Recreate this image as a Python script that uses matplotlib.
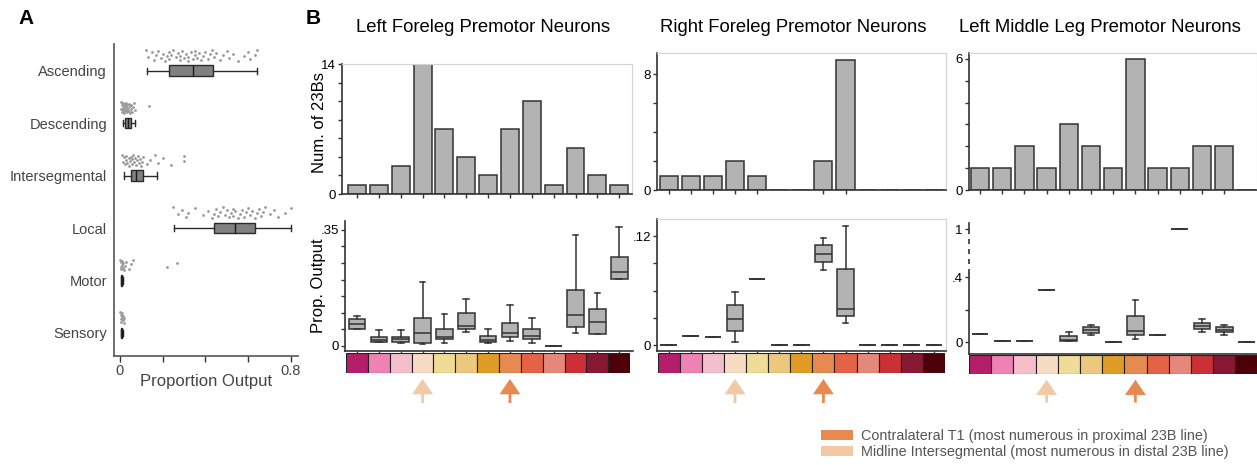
import matplotlib
matplotlib.use("Agg")
import matplotlib.pyplot as plt
import numpy as np
from matplotlib.patches import Patch
from matplotlib.transforms import blended_transform_factory

plt.rcParams["font.family"] = ["Liberation Sans", "DejaVu Sans"]

W, H = 1257, 465

# ---- Panel A: proportion of output onto each partner class ----
classes = ["Ascending", "Descending", "Intersegmental", "Local", "Motor", "Sensory"]
cls_lo = [0.125, 0.012, 0.020, 0.254, 0.004, 0.004]
cls_q1 = [0.229, 0.023, 0.050, 0.441, 0.006, 0.006]
cls_med = [0.340, 0.036, 0.073, 0.538, 0.008, 0.008]
cls_q3 = [0.437, 0.050, 0.106, 0.632, 0.010, 0.010]
cls_hi = [0.640, 0.070, 0.172, 0.799, 0.012, 0.012]

asc_pts = [0.12, 0.13, 0.15, 0.16, 0.17, 0.18, 0.19, 0.20, 0.21, 0.22, 0.23, 0.23,
           0.24, 0.25, 0.26, 0.27, 0.28, 0.28, 0.29, 0.30, 0.31, 0.32, 0.32, 0.33,
           0.34, 0.35, 0.35, 0.36, 0.37, 0.38, 0.39, 0.40, 0.41, 0.42, 0.43, 0.44,
           0.45, 0.47, 0.48, 0.50, 0.51, 0.53, 0.55, 0.58, 0.60, 0.61, 0.63, 0.64]
desc_pts = [0.004, 0.006, 0.008, 0.010, 0.012, 0.014, 0.015, 0.018, 0.020, 0.022,
            0.024, 0.025, 0.027, 0.030, 0.032, 0.034, 0.035, 0.038, 0.040, 0.042,
            0.045, 0.048, 0.050, 0.053, 0.055, 0.060, 0.065, 0.070, 0.137]
inter_pts = [0.010, 0.015, 0.020, 0.025, 0.028, 0.030, 0.035, 0.040, 0.042, 0.045,
             0.050, 0.055, 0.058, 0.060, 0.065, 0.070, 0.075, 0.080, 0.085, 0.090,
             0.095, 0.100, 0.105, 0.110, 0.125, 0.140, 0.164, 0.180, 0.200, 0.237,
             0.300, 0.300]
local_pts = [0.25, 0.27, 0.29, 0.31, 0.32, 0.35, 0.39, 0.41, 0.43, 0.44, 0.45, 0.46,
             0.47, 0.48, 0.49, 0.50, 0.51, 0.52, 0.53, 0.53, 0.54, 0.55, 0.56, 0.57,
             0.58, 0.59, 0.60, 0.61, 0.62, 0.63, 0.64, 0.65, 0.66, 0.67, 0.68, 0.70,
             0.72, 0.74, 0.77, 0.80]
motor_pts = [0.002, 0.004, 0.005, 0.006, 0.008, 0.010, 0.012, 0.015, 0.020, 0.025,
             0.030, 0.040, 0.050, 0.060, 0.220, 0.265]
sensory_pts = [0.002, 0.004, 0.005, 0.006, 0.008, 0.010, 0.012, 0.015, 0.018, 0.020]
class_pts = [asc_pts, desc_pts, inter_pts, local_pts, motor_pts, sensory_pts]

# ---- Panel B: premotor 23B neurons per hemilineage partner ----
n_groups = 13
group_colors = ["#B41E6A", "#EE82B4", "#F5BECB", "#F7DCC3", "#F0DC96", "#ECC77E",
                "#E09C25", "#E68A52", "#E46246", "#E5887A", "#CA3035", "#861833",
                "#4E0008"]
midline_idx, contra_idx = 3, 7
midline_color, contra_color = "#F2C9A5", "#E68A52"

titles = ["Left Foreleg Premotor Neurons", "Right Foreleg Premotor Neurons",
          "Left Middle Leg Premotor Neurons"]

lf_counts = [1, 1, 3, 14, 7, 4, 2, 7, 10, 1, 5, 2, 1]
rf_counts = [1, 1, 1, 2, 1, 0, 0, 2, 9, 0, 0, 0, 0]
lm_counts = [1, 1, 2, 1, 3, 2, 1, 6, 1, 1, 2, 2, 0]

lf_lo = [0.049, 0.010, 0.009, 0.004, 0.008, 0.040, 0.009, 0.014, 0.008, 0.0, 0.037, 0.034, 0.201]
lf_q1 = [0.049, 0.010, 0.011, 0.007, 0.020, 0.050, 0.010, 0.025, 0.019, 0.0, 0.056, 0.034, 0.201]
lf_med = [0.065, 0.017, 0.019, 0.039, 0.027, 0.060, 0.017, 0.039, 0.029, 0.0, 0.093, 0.072, 0.223]
lf_q3 = [0.080, 0.025, 0.027, 0.084, 0.052, 0.098, 0.030, 0.068, 0.049, 0.0, 0.168, 0.110, 0.269]
lf_hi = [0.090, 0.046, 0.047, 0.193, 0.096, 0.140, 0.052, 0.123, 0.085, 0.0, 0.335, 0.160, 0.360]

rf_lo = [0.0, 0.0099, 0.0092, 0.0029, 0.0727, 0.0, 0.0, 0.0830, 0.0239, 0.0, 0.0, 0.0, 0.0]
rf_q1 = [0.0, 0.0099, 0.0092, 0.0158, 0.0727, 0.0, 0.0, 0.0914, 0.0319, 0.0, 0.0, 0.0, 0.0]
rf_med = [0.0, 0.0099, 0.0092, 0.0283, 0.0727, 0.0, 0.0, 0.1005, 0.0396, 0.0, 0.0, 0.0, 0.0]
rf_q3 = [0.0, 0.0099, 0.0092, 0.0437, 0.0727, 0.0, 0.0, 0.1100, 0.0840, 0.0, 0.0, 0.0, 0.0]
rf_hi = [0.0, 0.0099, 0.0092, 0.0587, 0.0727, 0.0, 0.0, 0.1180, 0.1310, 0.0, 0.0, 0.0, 0.0]

lm_lo = [0.049, 0.008, 0.008, 0.32, 0.006, 0.045, 0.0, 0.018, 0.047, 1.0, 0.062, 0.045, 0.0]
lm_q1 = [0.049, 0.008, 0.008, 0.32, 0.008, 0.059, 0.0, 0.045, 0.047, 1.0, 0.080, 0.062, 0.0]
lm_med = [0.049, 0.008, 0.008, 0.32, 0.014, 0.076, 0.0, 0.070, 0.047, 1.0, 0.100, 0.078, 0.0]
lm_q3 = [0.049, 0.008, 0.008, 0.32, 0.039, 0.092, 0.0, 0.164, 0.047, 1.0, 0.119, 0.094, 0.0]
lm_hi = [0.049, 0.008, 0.008, 0.32, 0.064, 0.109, 0.0, 0.260, 0.047, 1.0, 0.142, 0.109, 0.0]

DARK = "#333333"
FRAME = "#d4d4d4"
TICK_FS = 9.5

fig = plt.figure(figsize=(W / 100, H / 100), dpi=100)


def px_axes(left, top, right, bottom):
    """Axes placed by pixel edges measured from the top-left corner."""
    return fig.add_axes([left / W, 1 - bottom / H, (right - left) / W, (bottom - top) / H])


def style_spines(ax, frame=True):
    for side in ("left", "bottom"):
        ax.spines[side].set_color(DARK)
        ax.spines[side].set_linewidth(1.2)
    for side in ("top", "right"):
        ax.spines[side].set_visible(frame)
        ax.spines[side].set_color(FRAME)
        ax.spines[side].set_linewidth(0.8)


def box_stats(lo, q1, med, q3, hi):
    return [dict(whislo=a, q1=b, med=c, q3=d, whishi=e)
            for a, b, c, d, e in zip(lo, q1, med, q3, hi)]


# ---------------- Panel A ----------------
axA = px_axes(114, 44, 298, 356)
posA = np.arange(len(classes))
axA.bxp(box_stats(cls_lo, cls_q1, cls_med, cls_q3, cls_hi), positions=posA,
        vert=False, widths=0.2, capwidths=0.12, showfliers=False, patch_artist=True,
        boxprops=dict(facecolor="#808080", edgecolor="#2a2a2a", linewidth=1.0),
        medianprops=dict(color="#1a1a1a", linewidth=1.0),
        whiskerprops=dict(color="#2a2a2a", linewidth=1.0),
        capprops=dict(color="#2a2a2a", linewidth=1.0))
for i, pts in enumerate(class_pts):
    k = np.arange(len(pts))
    jitter = ((k * 0.618034) % 1.0 - 0.5) * 0.22
    axA.scatter(pts, i - 0.29 + jitter, s=4, color="#999999", linewidths=0, zorder=3)
axA.set_xlim(-0.028, 0.833)
axA.set_ylim(5.44, -0.51)
axA.set_yticks(posA)
axA.set_yticklabels(classes, fontsize=10.5, color="#444444")
axA.tick_params(axis="y", length=0, pad=5)
axA.set_xticks([0, 0.2, 0.4, 0.6, 0.8])
axA.set_xticklabels(["0", "", "", "", "0.8"], fontsize=10.5, color="#444444")
axA.tick_params(axis="x", length=4, width=1, color=DARK, pad=2)
axA.set_xlabel("Proportion Output", fontsize=12, color="#444444", labelpad=-3)
style_spines(axA, frame=False)
axA.spines["left"].set_color("#555555")
axA.spines["bottom"].set_color("#555555")

fig.text(26 / W, 1 - 19 / H, "A", fontsize=15, fontweight="bold", ha="center", va="center")
fig.text(313 / W, 1 - 18 / H, "B", fontsize=15, fontweight="bold", ha="center", va="center")

# ---------------- Panel B ----------------
columns = [
    dict(c0=357.0, s=21.85, top=(342, 64, 632, 194), bot=(345, 221, 633, 351),
         strip_y=(353, 373), counts=lf_counts, ylim_top=14.05, cticks=[14],
         stats=box_stats(lf_lo, lf_q1, lf_med, lf_q3, lf_hi),
         ylim_bot=(-0.016, 0.377), bticks=np.arange(0, 0.36, 0.05), blabels={0: "0", 7: ".35"},
         cstep=2, title_x=483, frame_bot=False),
    dict(c0=668.7, s=22.1, top=(657, 53, 946, 190), bot=(657, 219, 946, 351),
         strip_y=(353, 373), counts=rf_counts, ylim_top=9.47, cticks=[8],
         stats=box_stats(rf_lo, rf_q1, rf_med, rf_q3, rf_hi),
         ylim_bot=(-0.0066, 0.139), bticks=np.arange(0, 0.121, 0.03), blabels={0: "0", 4: ".12"},
         cstep=2, title_x=793, frame_bot=True),
    dict(c0=980.0, s=22.2, top=(969, 53, 1257, 190), bot=(969, 223, 1257, 354),
         strip_y=(355, 374), counts=lm_counts, ylim_top=6.27, cticks=[6],
         stats=box_stats(lm_lo, lm_q1, lm_med, lm_q3, lm_hi),
         ylim_bot=(-0.072, 1.075), bticks=[0, 0.2, 0.4, 1.0], blabels={0: "0", 2: ".4", 3: "1"},
         cstep=1, title_x=1100, frame_bot=False),
]

pos = np.arange(n_groups)
squash = 0.495  # compression of the range above .4 on the middle-leg panel


def fwd(v):
    v = np.asarray(v, dtype=float)
    return np.where(v <= 0.4, v, 0.4 + (v - 0.4) * squash)


def inv(u):
    u = np.asarray(u, dtype=float)
    return np.where(u <= 0.4, u, 0.4 + (u - 0.4) / squash)


for ci, col in enumerate(columns):
    c0, s = col["c0"], col["s"]

    def xl(edge_l, edge_r):
        return ((edge_l - c0) / s, (edge_r - c0) / s)

    # counts of 23B neurons
    l, t, r, b = col["top"]
    axc = px_axes(l, t, r, b)
    axc.bar(pos, col["counts"], width=0.82, color="#b3b3b3", edgecolor=DARK, linewidth=1.1)
    axc.set_xlim(*xl(l, r))
    axc.set_ylim(0, col["ylim_top"])
    top_val = col["cticks"][0]
    yt = np.arange(0, top_val + 0.1, col["cstep"])
    axc.set_yticks(yt)
    axc.set_yticklabels(["0"] + [""] * (len(yt) - 2) + [str(top_val)], fontsize=TICK_FS)
    axc.set_xticks(np.flatnonzero(col["counts"]))
    axc.set_xticklabels([])
    axc.tick_params(length=3, width=1, color=DARK, pad=1.5)
    style_spines(axc, frame=True)
    if ci == 0:
        axc.set_ylabel("Num. of 23Bs", fontsize=12)
        axc.yaxis.set_label_coords(-0.052, 0.55)

    # proportion of output per partner group
    l, t, r, b = col["bot"]
    axb = px_axes(l, t, r, b)
    if ci == 2:
        axb.set_yscale("function", functions=(fwd, inv))
    axb.bxp(col["stats"], positions=pos, widths=0.76, capwidths=0.26, showfliers=False,
            patch_artist=True,
            boxprops=dict(facecolor="#b3b3b3", edgecolor=DARK, linewidth=1.1),
            medianprops=dict(color=DARK, linewidth=1.1),
            whiskerprops=dict(color=DARK, linewidth=1.1),
            capprops=dict(color=DARK, linewidth=1.1))
    axb.set_xlim(*xl(l, r))
    axb.set_ylim(*col["ylim_bot"])
    axb.set_yticks(col["bticks"])
    axb.set_yticklabels([col["blabels"].get(i, "") for i in range(len(col["bticks"]))],
                        fontsize=TICK_FS)
    axb.set_xticks(pos)
    axb.set_xticklabels([])
    axb.tick_params(length=3, width=1, color=DARK, pad=1.5)
    axb.tick_params(axis="x", length=2)
    style_spines(axb, frame=col["frame_bot"])
    if ci == 0:
        axb.set_ylabel("Prop. Output", fontsize=12)
        axb.yaxis.set_label_coords(-0.066, 0.5)
    if ci == 2:
        axb.spines["left"].set_bounds(col["ylim_bot"][0], 0.44)
        tr = blended_transform_factory(axb.transAxes, axb.transData)
        axb.plot([0, 0], [0.44, 0.95], transform=tr, color=DARK, lw=1.2,
                 ls=(0, (3, 3)), clip_on=False)
        axb.plot([0, 0], [0.95, col["ylim_bot"][1]], transform=tr, color=DARK, lw=1.2,
                 clip_on=False)

    # colour strip of partner hemilineages
    y0, y1 = col["strip_y"]
    axs = px_axes(c0 - s / 2, y0, c0 + 12.5 * s, y1)
    axs.bar(pos, np.ones(n_groups), width=1.0, bottom=0, color=group_colors,
            edgecolor="#222222", linewidth=0.8)
    axs.set_xlim(-0.5, 12.5)
    axs.set_ylim(0, 1)
    axs.set_axis_off()
    for idx, colr in ((midline_idx, midline_color), (contra_idx, contra_color)):
        axs.annotate("", xy=(idx, -0.3), xytext=(idx, -1.5), annotation_clip=False,
                     arrowprops=dict(arrowstyle="simple,head_length=0.55,head_width=0.75,tail_width=0.1",
                                     mutation_scale=20, color=colr, lw=0,
                                     shrinkA=0, shrinkB=0))

    fig.text(col["title_x"] / W, 1 - 28 / H, titles[ci], fontsize=13.3,
             ha="center", va="center")

fig.legend(handles=[Patch(facecolor=contra_color, edgecolor="none",
                          label="Contralateral T1 (most numerous in proximal 23B line)"),
                    Patch(facecolor=midline_color, edgecolor="none",
                          label="Midline Intersegmental (most numerous in distal 23B line)")],
           loc="upper left", bbox_to_anchor=(815 / W, 1 - 423 / H), frameon=False,
           fontsize=10.4, handlelength=2.2, handleheight=0.65, labelspacing=0.15,
           handletextpad=0.6, labelcolor="#555555", borderaxespad=0)

fig.savefig("out.png", dpi=100)
